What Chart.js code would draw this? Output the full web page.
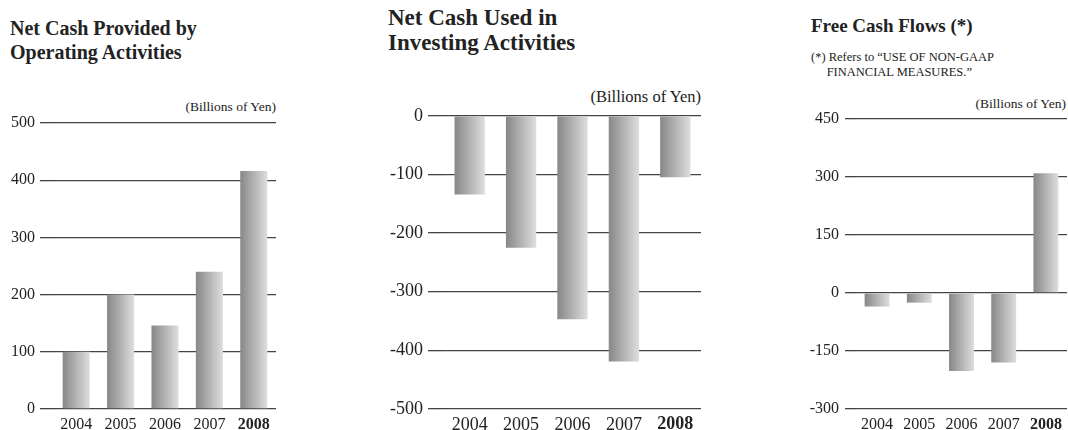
<!DOCTYPE html>
<html>
<head>
<meta charset="utf-8">
<script src="https://cdn.jsdelivr.net/npm/chart.js@4.4.1/dist/chart.umd.min.js"></script>
<style>
  body { margin: 0; background: #fff; width: 1068px; height: 430px; overflow: hidden; position: relative; font-family: "Liberation Serif", "DejaVu Serif", serif; color: #222; }
  .titulo { position: absolute; font-weight: bold; font-size: 20px; line-height: 24px; color: #222; white-space: nowrap; }
  .unidade { position: absolute; font-size: 13.5px; color: #222; white-space: nowrap; text-align: right; }
  .nota { position: absolute; font-size: 12.5px; line-height: 15px; color: #222; white-space: nowrap; }
  .caixa { position: absolute; top: 100px; height: 330px; }
</style>
</head>
<body>

<div class="titulo" style="left:10px; top:16px;">Net Cash Provided by<br>Operating Activities</div>
<div class="titulo" style="left:388px; top:5px; font-size:23px; line-height:25px;">Net Cash Used in<br>Investing Activities</div>
<div class="titulo" style="left:811px; top:14px; font-size:19px;">Free Cash Flows (*)</div>
<div class="nota" style="left:811px; top:50px;">(*) Refers to “USE OF NON-GAAP<br>&nbsp;&nbsp;&nbsp;&nbsp;&nbsp;FINANCIAL MEASURES.”</div>

<div class="unidade" style="right:calc(1068px - 276px); top:99px;">(Billions of Yen)</div>
<div class="unidade" style="right:calc(1068px - 701px); top:87px; font-size:16.5px;">(Billions of Yen)</div>
<div class="unidade" style="right:calc(1068px - 1066px); top:96px;">(Billions of Yen)</div>

<div class="caixa" style="left:0px; width:290px;"><canvas id="grafOperacional"></canvas></div>
<div class="caixa" style="left:370px; width:340px;"><canvas id="grafInvestimento"></canvas></div>
<div class="caixa" style="left:790px; width:278px;"><canvas id="grafLivre"></canvas></div>

<script>
const anos = ['2004', '2005', '2006', '2007', '2008'];

const valoresOperacional = [100, 200, 146, 240, 416];
const valoresInvestimento = [-134, -225, -347, -419, -105];
const valoresLivre = [-35, -25, -202, -180, 310];

const ticksOperacional = [0, 100, 200, 300, 400, 500];
const ticksInvestimento = [0, -100, -200, -300, -400, -500];
const ticksLivre = [-300, -150, 0, 150, 300, 450];

/*  Gradiente de cada barra: escuro na esquerda, claro na direita  */
function corBarra(context, pct){
  const chart = context.chart;
  const escala = chart.scales.x;
  if (!chart.chartArea || !escala) return '#aaa';
  const centro = escala.getPixelForValue(context.dataIndex);
  const largura = (escala.width / anos.length) * pct;
  const g = chart.ctx.createLinearGradient(centro - largura / 2, 0, centro + largura / 2, 0);
  g.addColorStop(0, '#878787');
  g.addColorStop(1, '#dedede');
  return g;
}

function montaGrafico(id, valores, ticks, cfg){
  return new Chart(document.getElementById(id), {
    type: 'bar',
    data: {
      labels: anos,
      datasets: [{
        data: valores,
        backgroundColor: (c) => corBarra(c, cfg.pct),
        borderWidth: 0,
        barPercentage: cfg.pct,
        categoryPercentage: 1
      }]
    },
    options: {
      responsive: true,
      maintainAspectRatio: false,
      animation: false,
      events: [],
      layout: { padding: { top: cfg.topo, right: cfg.direita, bottom: 0, left: 0 } },
      plugins: { legend: { display: false }, tooltip: { enabled: false } },
      scales: {
        x: {
          grid: { display: false, drawTicks: false, tickLength: 0 },
          border: { display: false },
          ticks: {
            color: '#222',
            padding: cfg.padX,
            font: (c) => ({ family: 'Liberation Serif', size: cfg.fonte, weight: c.index === 4 ? 'bold' : 'normal' })
          },
          afterFit: (s) => { s.height = 21; }
        },
        y: {
          min: cfg.min,
          max: cfg.max,
          afterBuildTicks: (s) => { s.ticks = ticks.map(v => ({ value: v })); },
          grid: { color: '#444', lineWidth: 1.3, drawTicks: true, tickLength: cfg.tick, tickColor: '#444' },
          border: { display: false },
          ticks: {
            color: '#222',
            padding: cfg.pad,
            font: { family: 'Liberation Serif', size: cfg.fonte }
          },
          afterFit: (s) => { s.width = cfg.largura; }
        }
      }
    }
  });
}

montaGrafico('grafOperacional', valoresOperacional, ticksOperacional,
  { min: 0, max: 500, pct: 0.61, topo: 23, direita: 14, tick: 14, pad: 5, largura: 54, fonte: 16, padX: 6 });
montaGrafico('grafInvestimento', valoresInvestimento, ticksInvestimento,
  { min: -500, max: 0, pct: 0.59, topo: 14, direita: 9, tick: 16, pad: 5, largura: 74, fonte: 18, padX: 5 });
montaGrafico('grafLivre', valoresLivre, ticksLivre,
  { min: -300, max: 450, pct: 0.59, topo: 19, direita: 1, tick: 11, pad: 6, largura: 66, fonte: 16, padX: 6 });
</script>
</body>
</html>
